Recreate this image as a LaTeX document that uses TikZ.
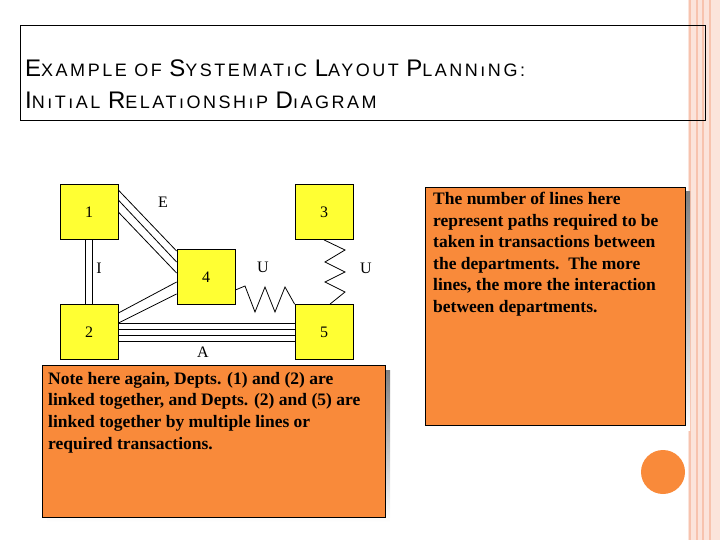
\documentclass[tikz,border=0pt]{standalone}
\usepackage{fontspec}
\setmainfont{Liberation Serif}
\newfontfamily\titlefont[LetterSpace=14]{Liberation Sans}
\usetikzlibrary{positioning}
\definecolor{deptyellow}{HTML}{FFFF33}
\definecolor{noteorange}{HTML}{F98A3A}
\definecolor{stripe}{HTML}{F7C3AE}
\definecolor{shade}{HTML}{FFF2AA}
\newcommand*{\titlecap}[1]{{\fontsize{24}{26}\selectfont #1}}
\tikzset{
  dept/.style={draw, thick, fill=deptyellow, minimum width=58pt, minimum height=55pt, font=\fontsize{16}{18}\selectfont},
  rel/.style={font=\fontsize{16}{18}\selectfont},
  notebox/.style={draw, fill=noteorange},
  note/.style={align=left, anchor=north west, inner sep=0pt,
    font=\fontsize{17.5}{21.6}\selectfont\bfseries},
}
\begin{document}
\begin{tikzpicture}[x=1pt,y=-1pt]
  \useasboundingbox (0,0) rectangle (720,540);
  % side stripes
  \fill[stripe!45] (688,0) rectangle (720,540);
  \foreach \sx in {690,697,703,710}
    \draw[stripe, line width=1.5pt] (\sx,0) -- (\sx,540);
  % title
  \draw (20,25) rectangle (705,120);
  \node[anchor=base west, inner sep=0pt, font=\titlefont\fontsize{18}{20}\selectfont] (title1) at (25,77)
    {\titlecap{E}XAMPLE OF \titlecap{S}YSTEMATıC \titlecap{L}AYOUT \titlecap{P}LANNıNG:};
  \node[anchor=base west, inner sep=0pt, font=\titlefont\fontsize{18}{20}\selectfont] (title2) at (25,109)
    {\titlecap{I}NıTıAL \titlecap{R}ELATıONSHıP \titlecap{D}ıAGRAM};
  % departments
  \node[dept] (d1) at (89,212) {1};
  \node[dept] (d3) at (324,212) {3};
  \node[dept] (d4) at (206,277) {4};
  \node[dept] (d2) at (89,332) {2};
  \node[dept] (d5) at (324,332) {5};
  % lines between departments
  \foreach \a/\b in {6/26,16/15,28/4}
    \draw[thick] ([yshift=-\a pt]d1.north east) -- ([yshift=\b pt]d4.west);
  \foreach \a in {-4,3}
    \draw[thick] ([xshift=\a pt]d1.south) -- ([xshift=\a pt]d2.north);
  \foreach \a/\b in {19/-5,9/-17}
    \draw[thick] ([yshift=\a pt]d2.east) -- ([yshift=\b pt]d4.west);
  \foreach \a in {-9,-3,3,9}
    \draw[thick] ([yshift=\a pt]d2.east) -- ([yshift=\a pt]d5.west);
  \draw[thick] ([yshift=-13pt]d4.east) -- (245,286) -- (255,312) -- (265,287) -- (275,312) -- (285,287) -- (d5.north west);
  \draw[thick] (d3.south) -- (345,250) -- (325,262) -- (345,272) -- (325,282) -- (345,292) -- ([xshift=6pt]d5.north);
  % relationship codes
  \node[rel] (relE) at (163,202) {E};
  \node[rel] (relI) at (99,268) {I};
  \node[rel] (relU1) at (263,267) {U};
  \node[rel] (relU2) at (366,268) {U};
  \node[rel] (relA) at (203,352) {A};
  % notes
  \fill[shade] (47,370) rectangle (390,522);
  \draw[notebox] (42,365) rectangle (385,517);
  \node[note] (notel) at (48,372)
    {Note here again, Depts. (1) and (2) are\\ linked together, and Depts. (2) and (5) are\\ linked together by multiple lines or\\ required transactions.};
  \fill[shade] (430,192) rectangle (690,430);
  \draw[notebox] (425,187) rectangle (685,425);
  \node[note] (noter) at (433,192)
    {The number of lines here\\ represent paths required to be\\ taken in transactions between\\ the departments.\ \ The more\\ lines, the more the interaction\\ between departments.};
  \fill[noteorange] (663,472) circle (22);
\end{tikzpicture}
\end{document}
